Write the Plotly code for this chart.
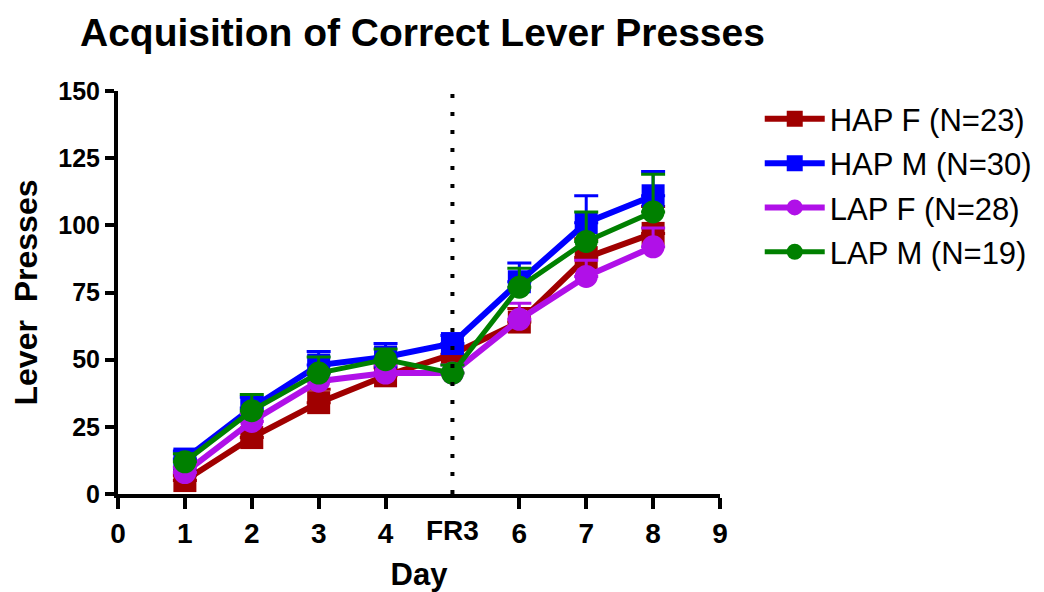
import plotly.graph_objects as go

# Training days (day 5 is the FR3 session)
days = [1, 2, 3, 4, 5, 6, 7, 8]
tick_days = [0, 1, 2, 3, 4, 6, 7, 8, 9]
tick_labels = ["0", "1", "2", "3", "4", "6", "7", "8", "9"]
fr3_day = 5

# Mean correct lever presses per group
hap_f = [5, 21, 34, 44, 52, 64, 88, 97]
hap_m = [13, 32, 48, 51, 56, 79, 101, 111]
lap_f = [8, 27, 42, 45, 45, 65, 81, 92]
lap_m = [12, 31, 45, 50, 45, 77, 94, 105]

# SEM (upper bars only)
hap_f_sem = [2, 3, 5, 3, 3, 5, 7, 10]
hap_m_sem = [3, 4, 5, 5, 3, 7, 10, 9]
lap_f_sem = [2, 3, 3, 3, 3, 6, 6, 7]
lap_m_sem = [3, 6, 6, 4, 3, 7, 11, 14]

groups = [
    ("HAP F (N=23)", hap_f, hap_f_sem, "#A00000", "square", 6),
    ("HAP M (N=30)", hap_m, hap_m_sem, "#0000FF", "square", 6),
    ("LAP F (N=28)", lap_f, lap_f_sem, "#B010E8", "circle", 6),
    ("LAP M (N=19)", lap_m, lap_m_sem, "#008000", "circle", 5),
]

FONT = "Liberation Sans, Arial, sans-serif"

fig = go.Figure()
for i, (name, vals, sem, color, symbol, lw) in enumerate(groups):
    fig.add_trace(go.Scatter(
        x=days, y=vals, name=name, mode="lines+markers",
        legendgroup=f"g{i}",
        line=dict(color=color, width=lw),
        marker=dict(color=color, symbol=symbol, size=23, line=dict(width=0)),
        error_y=dict(type="data", symmetric=False, array=sem,
                     arrayminus=[0] * len(sem), color=color,
                     thickness=3, width=12),
        cliponaxis=False,
    ))

# FR3 marker line
fig.add_shape(type="line", xref="x", yref="y", x0=fr3_day, x1=fr3_day,
              y0=0, y1=150, line=dict(color="black", width=4, dash="4px,14px"))

tick_font_x = dict(family=FONT, size=28, color="black", weight="bold")
tick_font_y = dict(family=FONT, size=25, color="black", weight="bold")

fig.update_layout(
    width=1044, height=592,
    paper_bgcolor="white", plot_bgcolor="white",
    margin=dict(l=118, r=324, t=91, b=98, autoexpand=False),
    title=dict(text="<b>Acquisition of Correct Lever Presses</b>",
               x=80 / 1044, xanchor="left", y=1 - 32 / 592, yanchor="middle",
               font=dict(family=FONT, size=39, color="black")),
    xaxis=dict(range=[0, 9], tickvals=tick_days, ticktext=tick_labels,
               showgrid=False, zeroline=False, showline=True,
               linecolor="black", linewidth=4, ticks="outside",
               ticklen=11, tickwidth=4, tickcolor="black",
               tickfont=tick_font_x, automargin=False,
               title=dict(text="<b>Day</b>", standoff=17,
                          font=dict(family=FONT, size=31, color="black"))),
    xaxis2=dict(range=[0, 9], overlaying="x", anchor="y", side="bottom",
                tickvals=[fr3_day], ticktext=["FR3"], showgrid=False,
                zeroline=False, showline=False, ticks="outside", ticklen=11,
                tickwidth=4, tickcolor="rgba(0,0,0,0)",
                tickfont=tick_font_x, automargin=False),
    yaxis=dict(range=[0, 150], tickvals=[0, 25, 50, 75, 100, 125, 150],
               showgrid=False, zeroline=False, showline=True,
               linecolor="black", linewidth=4, ticks="outside",
               ticklen=9, tickwidth=4, tickcolor="black",
               tickfont=tick_font_y, automargin=False,
               title=dict(text="<b>Lever  Presses</b>", standoff=12,
                          font=dict(family=FONT, size=32, color="black"))),
    legend=dict(x=1.066, xanchor="left", y=0.997, yanchor="top",
                font=dict(family=FONT, size=31, color="black"),
                itemwidth=60, tracegroupgap=1, bgcolor="rgba(0,0,0,0)"),
    showlegend=True,
)

# invisible trace so the secondary x-axis (FR3 label) is rendered
fig.add_trace(go.Scatter(x=[fr3_day], y=[None], xaxis="x2", showlegend=False,
                         hoverinfo="skip"))

fig.write_html("out.html")
